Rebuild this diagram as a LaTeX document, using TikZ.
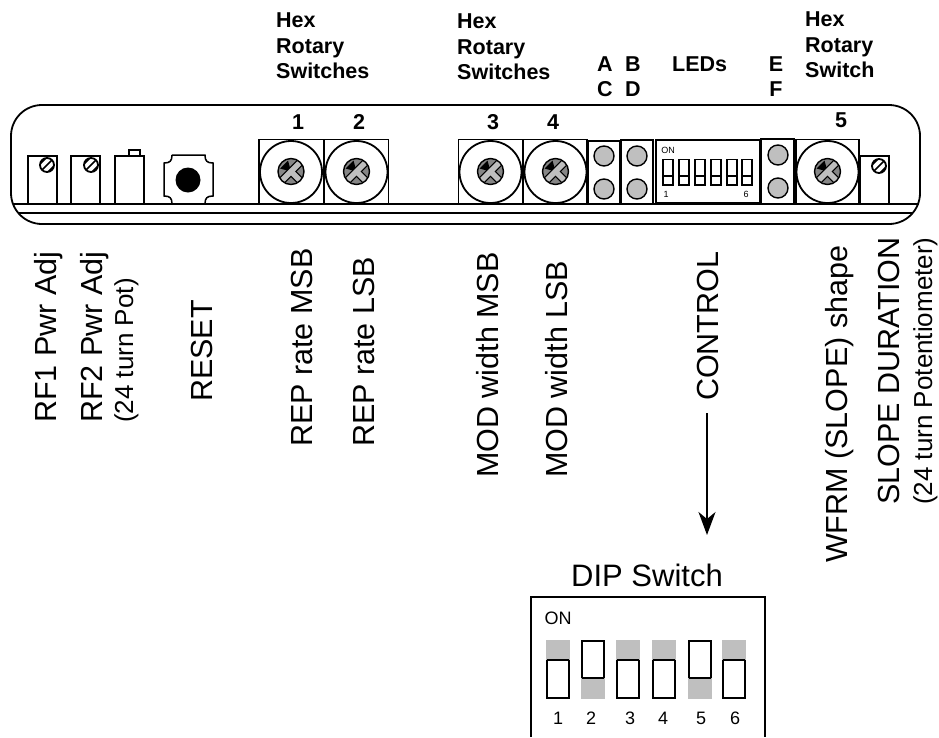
\documentclass[tikz,border=0pt]{standalone}
\usepackage{fontspec}
\setmainfont{Liberation Sans}
\usetikzlibrary{arrows.meta}
\definecolor{partgrey}{gray}{0.75}
\tikzset{
    part/.style={draw, line width=1.8pt, fill=white},
    led/.style={draw, line width=1.4pt, fill=partgrey},
    headlabel/.style={font=\fontsize{21.5}{25.5}\selectfont\bfseries, align=left, anchor=west, inner sep=0pt},
    letterlabel/.style={font=\fontsize{21.5}{25}\selectfont\bfseries, inner sep=0pt},
    biglabel/.style={font=\fontsize{30.5}{32}\selectfont, rotate=90, anchor=base west, inner sep=0pt},
    smalllabel/.style={font=\fontsize{26}{28}\selectfont, rotate=90, anchor=base west, inner sep=0pt},
    diplabel/.style={font=\fontsize{18}{20}\selectfont, inner sep=0pt},
    tinylabel/.style={font=\fontsize{9}{10}\selectfont, inner sep=0pt}
}
% rotary switch: box, ring, slotted screw
\newcommand{\hexswitch}[3]{
    \draw[part] (#1,139.5) rectangle (#2,204);
    \draw[line width=1.8pt] (#3,172) circle (31pt);
    \fill[partgrey!70!black] (#3,171.5) circle (13pt);
    \begin{scope}
        \clip (#3,171.5) circle (13pt);
        \fill (#3-11,171.5-3) -- (#3-3,171.5-11) -- (#3,171.5) -- cycle;
        \draw[line width=8pt] (#3,171.5) -- (#3+13,171.5+13);
        \draw[line width=8pt] (#3+13,171.5-13) -- (#3-13,171.5+13);
        \draw[line width=5.5pt, partgrey] (#3,171.5) -- (#3+13,171.5+13);
        \draw[line width=5.5pt, partgrey] (#3+13,171.5-13) -- (#3-13,171.5+13);
    \end{scope}
    \draw[line width=1.4pt] (#3,171.5) circle (13pt);
}
% trim pot screw
\newcommand{\trimscrew}[2]{
    \begin{scope}
        \clip (#1,#2) circle (7pt);
        \foreach \s in {-4,0,4} {
            \draw[line width=1.7pt] (#1-8+\s,#2+8+\s) -- (#1+8+\s,#2-8+\s);
        }
    \end{scope}
    \draw[line width=1.8pt] (#1,#2) circle (7pt);
}
\begin{document}
\begin{tikzpicture}[x=1pt, y=-1pt]
    \useasboundingbox (0,0) rectangle (939,737);

    % panel
    \draw[line width=1.8pt, rounded corners=31pt] (11,105) rectangle (920,224);
    \draw[line width=1.2pt] (12.5,204) -- (918.5,204);
    \draw[line width=1.8pt] (18,213) -- (913,213);

    % pots
    \draw[part] (28,156) rectangle (57,204);
    \trimscrew{47}{165}
    \draw[part] (71,156) rectangle (100,204);
    \trimscrew{91}{165}
    \draw[part] (129,150) rectangle (140,156);
    \draw[part] (115,156) rectangle (144,204);

    % reset button
    \draw[line width=1.5pt] (172,155) -- (205,155)
        .. controls (205,161) and (207,163) .. (213,163) -- (213,196)
        .. controls (207,196) and (205,198) .. (205,204) -- (172,204)
        .. controls (172,198) and (170,196) .. (164,196) -- (164,163)
        .. controls (170,163) and (172,161) .. (172,155);
    \fill (188,180) circle (12.5pt);

    % rotary switches
    \hexswitch{259}{323.5}{291}
    \hexswitch{324.5}{388.5}{356.5}
    \hexswitch{458.5}{522.5}{490.5}
    \hexswitch{523.5}{587}{555.5}
    \hexswitch{796}{859}{827.5}
    \node[letterlabel] (one) at (298,122) {1};
    \node[letterlabel] (two) at (359,122) {2};
    \node[letterlabel] (three) at (493,122) {3};
    \node[letterlabel] (four) at (553,122) {4};
    \node[letterlabel] (five) at (841,120) {5};

    % LEDs
    \draw[part] (588,141) rectangle (620,204);
    \draw[led] (604,156) circle (10pt);
    \draw[led] (604,189) circle (10pt);
    \draw[part] (621,140) rectangle (653,204);
    \draw[led] (637,156) circle (10pt);
    \draw[led] (637,189) circle (10pt);
    \draw[part] (761,139) rectangle (794,204);
    \draw[led] (778,155) circle (10pt);
    \draw[led] (778,188) circle (10pt);

    % small DIP switch
    \draw[part] (656,140) rectangle (760,203);
    \node[tinylabel] (onsmall) at (668,150) {ON};
    \foreach \x in {663,679,695,711,727,742} {
        \draw[line width=1.8pt] (\x,159.5) rectangle (\x+10,185);
        \draw[line width=1.8pt] (\x,176) -- (\x+10,176);
    }
    \node[tinylabel] (onelabel) at (666,194) {1};
    \node[tinylabel] (sixlabel) at (746,194) {6};

    % trim pot right
    \draw[part] (860.5,156) rectangle (889,204);
    \trimscrew{879}{166}

    % heading labels
    \node[headlabel] (hexa) at (276,46) {Hex\\Rotary\\Switches};
    \node[headlabel] (hexb) at (457,47) {Hex\\Rotary\\Switches};
    \node[headlabel] (hexc) at (805,45) {Hex\\Rotary\\Switch};
    \node[letterlabel] (ledA) at (605,64) {A};
    \node[letterlabel] (ledB) at (633,64) {B};
    \node[letterlabel] (ledC) at (605,89) {C};
    \node[letterlabel] (ledD) at (633,89) {D};
    \node[letterlabel, anchor=west] (leds) at (672,64) {LEDs};
    \node[letterlabel] (ledE) at (776,64) {E};
    \node[letterlabel] (ledF) at (776,89) {F};

    % rotated labels
    \node[biglabel] (rfone) at (56,423) {RF1 Pwr Adj};
    \node[biglabel] (rftwo) at (102,423) {RF2 Pwr Adj};
    \node[smalllabel] (rfpot) at (133,423) {(24 turn Pot)};
    \node[biglabel] (reset) at (212,402) {RESET};
    \node[biglabel] (repmsb) at (312,447) {REP rate MSB};
    \node[biglabel] (replsb) at (374,447) {REP rate LSB};
    \node[biglabel] (modmsb) at (498,478) {MOD width MSB};
    \node[biglabel] (modlsb) at (567,478) {MOD width LSB};
    \node[biglabel] (control) at (718,401) {CONTROL};
    \node[biglabel] (wfrm) at (847,563) {WFRM (SLOPE) shape};
    \node[biglabel] (slope) at (899,505) {SLOPE DURATION};
    \node[smalllabel] (slopepot) at (932,505) {(24 turn Potentiometer)};

    % arrow to DIP
    \coordinate (dipend) at (707,535);
    \draw[line width=1.8pt, shorten <=12pt, -{Stealth[length=23pt, width=17pt, inset=7pt]}] (dipend |- control.west) -- (dipend);

    % big DIP switch
    \node[font=\fontsize{31}{33}\selectfont, inner sep=0pt] (diptitle) at (647,575) {DIP Switch};
    \draw[line width=1.8pt] (531,737) -- (531,597) -- (765,597) -- (765,737);
    \node[diplabel] (onbig) at (558,618) {ON};
    \foreach \x/\ya/\yb/\ydiv in {547/640/660/660, 582/678/699/678, 617/640/660/660, 653/640/660/660, 689/678/699/678, 723/640/660/660} {
        \draw[line width=1.8pt] (\x,641) rectangle (\x+22,698);
        \fill[partgrey] (\x-1,\ya) rectangle (\x+23,\yb);
        \draw[line width=1.8pt] (\x,\ydiv) -- (\x+22,\ydiv);
    }
    \node[diplabel] (lblone) at (558,718) {1};
    \node[diplabel] (lbltwo) at (591,718) {2};
    \node[diplabel] (lblthree) at (630,718) {3};
    \node[diplabel] (lblfour) at (663,718) {4};
    \node[diplabel] (lblfive) at (701,718) {5};
    \node[diplabel] (lblsix) at (735,718) {6};
\end{tikzpicture}
\end{document}
